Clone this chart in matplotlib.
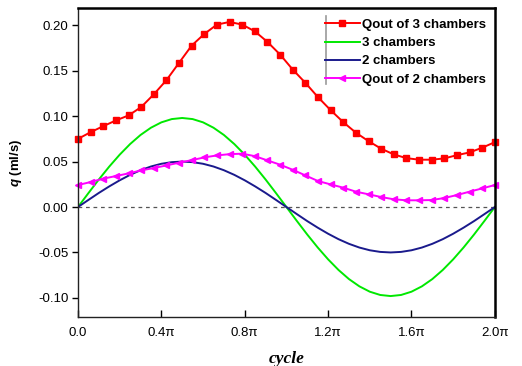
import matplotlib.pyplot as plt
import numpy as np
from matplotlib.lines import Line2D

# red / magenta curves: 34 marker points over one cycle (x in units of pi)
x_mark = np.linspace(0, 2, 34)
qout3 = [0.075, 0.0824, 0.089, 0.0953, 0.1008, 0.110, 0.124, 0.1396, 0.1587, 0.1777,
         0.1905, 0.2008, 0.2037, 0.2008, 0.1934, 0.1817, 0.1678, 0.1513, 0.1367, 0.1209,
         0.1066, 0.0934, 0.0818, 0.0725, 0.0642, 0.0579, 0.0538, 0.0521, 0.0521, 0.0535,
         0.0571, 0.0601, 0.0653, 0.0714]
qout2 = [0.0242, 0.0275, 0.0312, 0.0341, 0.037, 0.0403, 0.0429, 0.0458, 0.0488, 0.0516,
         0.0546, 0.0568, 0.0582, 0.0587, 0.056, 0.0513, 0.0466, 0.0410, 0.0348, 0.0286,
         0.0249, 0.0213, 0.0169, 0.014, 0.011, 0.0085, 0.0074, 0.0074, 0.0077, 0.0099,
         0.0132, 0.0169, 0.0205, 0.0242]

# smooth curves read every 0.05 pi
x_fine = np.linspace(0, 2, 41)
half3 = [0, 0.0153, 0.0303, 0.0445, 0.0576, 0.0693, 0.0793, 0.0873, 0.0932, 0.0968, 0.098,
         0.0968, 0.0932, 0.0873, 0.0793, 0.0693, 0.0576, 0.0445, 0.0303, 0.0153]
half2 = [0, 0.0078, 0.0155, 0.0227, 0.0294, 0.0354, 0.0405, 0.0446, 0.0476, 0.0494, 0.050,
         0.0494, 0.0476, 0.0446, 0.0405, 0.0354, 0.0294, 0.0227, 0.0155, 0.0078]
ch3 = half3 + [-v for v in half3] + [0]
ch2 = half2 + [-v for v in half2] + [0]

xticks = [0, 0.4, 0.8, 1.2, 1.6, 2.0]
xticklabels = ['0.0', '0.4π', '0.8π', '1.2π', '1.6π', '2.0π']
yticks = [-0.10, -0.05, 0.00, 0.05, 0.10, 0.15, 0.20]

plt.rcParams['font.family'] = ['Liberation Sans', 'DejaVu Sans']
plt.rcParams['mathtext.fontset'] = 'custom'
plt.rcParams['mathtext.it'] = 'Liberation Sans:italic:bold'

fig = plt.figure(figsize=(5.22, 3.66), dpi=100)
ax = fig.add_axes([0.1494, 0.134, 0.7986, 0.844])

ax.axhline(0, color='#555555', lw=0.9, ls=(0, (3, 3)))
ax.plot(x_mark, qout3, color='#ff0000', lw=1.4, marker='s', ms=4.5, label='Qout of 3 chambers', clip_on=False)
ax.plot(x_fine, ch3, color='#00e800', lw=1.4, label='3 chambers')
ax.plot(x_fine, ch2, color='#1a1a8c', lw=1.4, label='2 chambers')
ax.plot(x_mark, qout2, color='#ff00ff', lw=1.4, marker='<', ms=5, label='Qout of 2 chambers', clip_on=False)

ax.set_xlim(0, 2)
ax.set_ylim(-0.121, 0.219)
ax.set_xticks(xticks)
ax.set_xticklabels(xticklabels, fontsize=9.5)
ax.set_yticks(yticks)
ax.set_yticklabels(['%.2f' % v for v in yticks], fontsize=9.5)
ax.tick_params(axis='x', direction='in', length=5, width=1, pad=7)
ax.tick_params(axis='y', direction='out', length=4, width=1, pad=3)

for s in ['top', 'right']:
    ax.spines[s].set_linewidth(1.8)
    ax.spines[s].set_color('black')
for s in ['left', 'bottom']:
    ax.spines[s].set_linewidth(1.0)
    ax.spines[s].set_color('#222222')

ax.set_xlabel('cycle', fontsize=12.5, family='Liberation Serif', style='italic', fontweight='bold', labelpad=9)
ax.set_ylabel(r'$q$ (ml/s)', fontsize=9.5, fontweight='bold', labelpad=10)

leg = ax.legend(loc='upper right', bbox_to_anchor=(1.0, 0.995), frameon=False,
                prop={'weight': 'bold', 'size': 9.5}, handlelength=2.6, handletextpad=0.15,
                labelspacing=0.45, borderaxespad=0.3)
ax.add_line(Line2D([0.594, 0.594], [0.755, 0.975], transform=ax.transAxes, color='#999999', lw=1.2))

fig.savefig('out.png', dpi=100)
